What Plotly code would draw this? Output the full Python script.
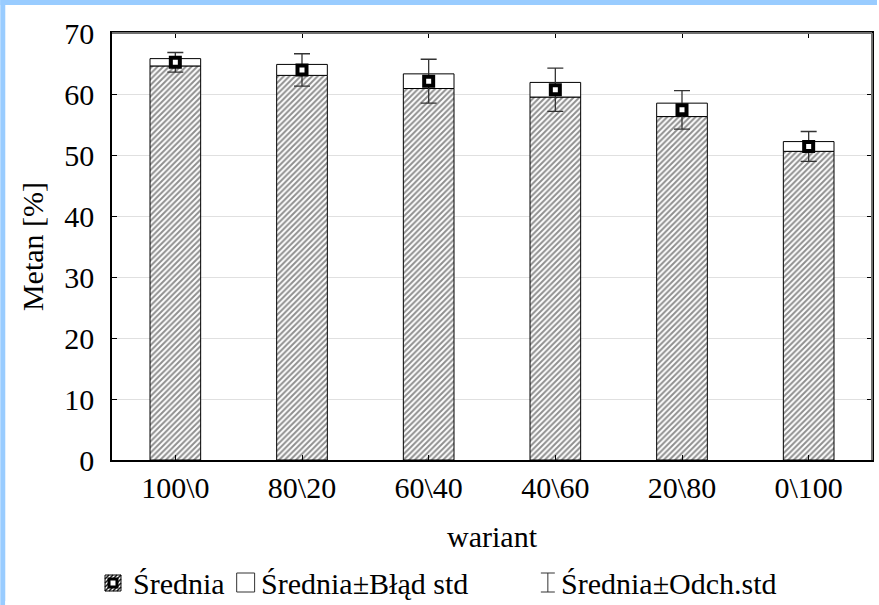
import plotly.graph_objects as go

# Methane content per blend variant
variants = ["100\\0", "80\\20", "60\\40", "40\\60", "20\\80", "0\\100"]
mean_ch4 = [65.2, 63.95, 62.1, 60.7, 57.4, 51.4]
std_err = [0.6, 0.9, 1.2, 1.2, 1.1, 0.8]
std_dev = [1.6, 2.65, 3.6, 3.55, 3.15, 2.45]

legend_labels = ["Średnia", "Średnia±Błąd std", "Średnia±Odch.std"]

W, H = 879, 605
L, R, T, B = 112, 5, 33, 145
PW, PH = W - L - R, H - T - B
FONT = "'Liberation Serif', 'Times New Roman', serif"
FS = 30


def px(x):
    return (x - L) / PW


def py(y):
    return (H - B - y) / PH


lower = [m - s for m, s in zip(mean_ch4, std_err)]
box_h = [2 * s for s in std_err]

fig = go.Figure()

# hatched column up to mean - SE
fig.add_trace(go.Bar(
    x=variants, y=lower, width=0.4,
    marker=dict(color="white", line=dict(color="black", width=1),
                pattern=dict(shape="/", fgcolor="#202020", bgcolor="white",
                             size=4, solidity=0.5)),
    showlegend=False, hoverinfo="skip",
))
# white box mean ± SE
fig.add_trace(go.Bar(
    x=variants, y=box_h, base=lower, width=0.4,
    marker=dict(color="white", line=dict(color="black", width=1)),
    showlegend=False, hoverinfo="skip",
))
# mean marker with ± SD whiskers
fig.add_trace(go.Scatter(
    x=variants, y=mean_ch4, mode="markers",
    marker=dict(symbol="square", size=9, color="white",
                line=dict(color="black", width=4)),
    error_y=dict(type="data", array=std_dev, visible=True,
                 color="#333333", thickness=1.3, width=8),
    showlegend=False,
))

shapes = []
# page frame: light blue strips along top and left edges
shapes.append(dict(type="rect", xref="paper", yref="paper", layer="below",
                   x0=px(0), x1=px(W), y0=py(5), y1=py(0),
                   fillcolor="#99CCFF", line=dict(width=0)))
shapes.append(dict(type="rect", xref="paper", yref="paper", layer="below",
                   x0=px(0), x1=px(5), y0=py(H), y1=py(0),
                   fillcolor="#99CCFF", line=dict(width=0)))
# keep the right and bottom page edges plain white
shapes.append(dict(type="rect", xref="paper", yref="paper", layer="above",
                   x0=px(876), x1=px(W + 10), y0=py(H + 10), y1=py(5),
                   fillcolor="white", line=dict(width=0)))
shapes.append(dict(type="rect", xref="paper", yref="paper", layer="above",
                   x0=px(5), x1=px(W + 10), y0=py(H + 10), y1=py(H - 4),
                   fillcolor="white", line=dict(width=0)))
# grey top and right frame lines
shapes.append(dict(type="line", xref="paper", yref="paper",
                   x0=0, x1=1, y0=1, y1=1, line=dict(color="#707070", width=2)))
shapes.append(dict(type="line", xref="paper", yref="paper",
                   x0=1, x1=1, y0=0, y1=1, line=dict(color="#707070", width=2)))

# legend: hatched icon with mean marker
ix0, ix1, iy0, iy1 = 105, 121, 575, 591
segs = []
step = 4
for k in range(-16, 20, step):
    xa, ya = ix0 + k, iy1
    xb, yb = ix0 + k + (iy1 - iy0), iy0
    if xa < ix0:
        ya -= (ix0 - xa); xa = ix0
    if xb > ix1:
        yb += (xb - ix1); xb = ix1
    if xa >= ix1 or xb <= ix0 or ya < yb:
        continue
    segs.append(f"M{px(xa)},{py(ya)} L{px(xb)},{py(yb)}")
shapes.append(dict(type="path", xref="paper", yref="paper", path=" ".join(segs),
                   line=dict(color="#202020", width=1.5)))
shapes.append(dict(type="rect", xref="paper", yref="paper",
                   x0=px(ix0), x1=px(ix1), y0=py(iy1), y1=py(iy0),
                   line=dict(color="black", width=1)))
shapes.append(dict(type="rect", xref="paper", yref="paper",
                   x0=px(109), x1=px(117), y0=py(587), y1=py(579),
                   fillcolor="white", line=dict(color="black", width=3)))

# legend: white box icon
shapes.append(dict(type="rect", xref="paper", yref="paper",
                   x0=px(237), x1=px(255), y0=py(592), y1=py(573),
                   fillcolor="white", line=dict(color="#333333", width=1)))

# legend: whisker icon
wx = 549
shapes.append(dict(type="path", xref="paper", yref="paper",
                   path=(f"M{px(wx-7)},{py(573)} L{px(wx+7)},{py(573)} "
                         f"M{px(wx)},{py(573)} L{px(wx)},{py(592)} "
                         f"M{px(wx-7)},{py(592)} L{px(wx+7)},{py(592)}"),
                   line=dict(color="#333333", width=1)))

annotations = []
for label, xl in zip(legend_labels, (131, 259, 560)):
    annotations.append(dict(text=label, xref="paper", yref="paper",
                            x=px(xl), y=py(583), xanchor="left", yanchor="middle",
                            showarrow=False,
                            font=dict(family=FONT, size=FS, color="black")))

fig.update_layout(
    width=W, height=H,
    margin=dict(l=L, r=R, t=T, b=B),
    paper_bgcolor="white",
    plot_bgcolor="white",
    barmode="overlay",
    font=dict(family=FONT, size=FS, color="black"),
    shapes=shapes,
    annotations=annotations,
    showlegend=False,
)
fig.update_xaxes(
    showline=True, linecolor="black", linewidth=1.5, mirror="ticks",
    ticks="inside", ticklen=5, tickcolor="black",
    showgrid=False,
    title=dict(text="wariant", standoff=23,
               font=dict(family=FONT, size=FS)),
    tickfont=dict(family=FONT, size=FS),
)
fig.update_yaxes(
    range=[0, 70], dtick=10,
    showline=True, linecolor="black", linewidth=1.5, mirror="ticks",
    ticks="inside", ticklen=5, tickcolor="black",
    showgrid=True, gridcolor="#e0e0e0", gridwidth=1,
    zeroline=False,
    ticklabelstandoff=10,
    title=dict(text="Metan [%]", standoff=12,
               font=dict(family=FONT, size=FS)),
    tickfont=dict(family=FONT, size=FS),
)

fig.write_html("out.html")
